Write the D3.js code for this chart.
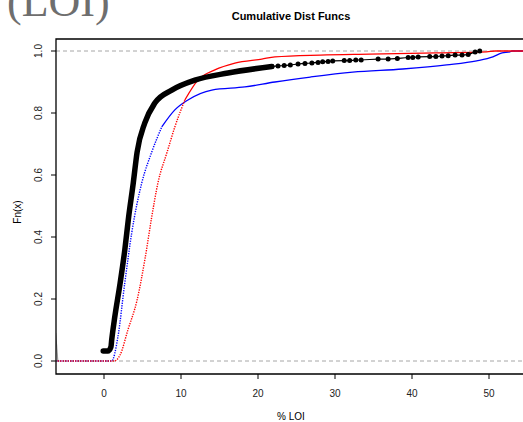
<!DOCTYPE html>
<html><head><meta charset="utf-8">
<script src="https://cdn.jsdelivr.net/npm/d3@7"></script>
<style>body{margin:0;background:#fff}svg{display:block}</style>
</head><body>
<script>
const title = "Cumulative Dist Funcs";
const xLabel = "% LOI";
const yLabel = "Fn(x)";
const xTicks = [0, 10, 20, 30, 40, 50];
const yTicks = [0, 0.2, 0.4, 0.6, 0.8, 1.0];

// black series: dense part (v, F)
const blackDense = [[-0.1,0.032],[0.5,0.032],[0.9,0.045],[1.0,0.068],[1.4,0.142],[2.1,0.252],[2.7,0.358],[3.2,0.465],[3.8,0.574],[4.3,0.674],[5.3,0.768],[6.6,0.832],[8.8,0.874],[11.8,0.906],[16.1,0.929],[21.8,0.950]];
// black series: sparse tail points
const blackTail = [[21.8,0.950],[22.6,0.952],[23.4,0.953],[24.2,0.955],[25.2,0.958],[26.1,0.960],[27.0,0.961],[27.8,0.963],[28.4,0.965],[29.1,0.966],[29.7,0.968],[31.2,0.969],[31.9,0.969],[32.7,0.971],[33.4,0.971],[35.6,0.974],[36.9,0.974],[38.1,0.976],[39.5,0.979],[40.1,0.979],[40.8,0.981],[42.3,0.982],[43.1,0.982],[43.9,0.984],[44.7,0.985],[45.6,0.987],[46.5,0.987],[47.3,0.989],[48.2,0.997],[48.8,1.0]];
const blueSeries = [[-7,0],[1.0,0],[1.8,0.077],[2.7,0.252],[3.6,0.413],[4.9,0.574],[6.2,0.674],[7.5,0.755],[9.2,0.81],[10.9,0.842],[14.0,0.874],[18.3,0.884],[22.2,0.90],[26.8,0.916],[32.3,0.932],[38.8,0.942],[44.5,0.955],[48.4,0.968],[50.5,0.981],[51.7,0.994],[52.7,0.997],[53.0,1.0],[56,1.0]];
const redSeries = [[-7,0],[1.3,0],[2.1,0.02],[3.1,0.10],[4.3,0.197],[5.3,0.326],[6.2,0.465],[7.0,0.574],[8.2,0.674],[9.2,0.755],[10.5,0.842],[12.2,0.906],[14.4,0.939],[17.0,0.961],[20.5,0.974],[22.2,0.981],[28.1,0.987],[34.5,0.990],[43.2,0.994],[49.7,0.997],[50.8,1.0],[56,1.0]];
const greySeries = [[-6.28,0.09],[-6.0,0.0]];
const refLines = [0, 1];

const W = 523, H = 422;
const svg = d3.select("body").append("svg").attr("width", W).attr("height", H);
const x = d3.scaleLinear().domain([0, 50]).range([104, 489]);
const y = d3.scaleLinear().domain([0, 1]).range([361, 51]);
const plot = {left: 56, right: 530, top: 39, bottom: 374};

svg.append("defs").append("clipPath").attr("id","clip").append("rect")
  .attr("x", plot.left).attr("y", plot.top).attr("width", plot.right-plot.left).attr("height", plot.bottom-plot.top);

// big grey fragment text (cut at top edge, as in the reference)
svg.append("text").attr("x", 7).attr("y", 16)
  .attr("font-family", "Liberation Serif, serif").attr("font-size", 44).attr("fill", "#6e6e6e")
  .text("(LOI)");

svg.append("text").attr("x", 291).attr("y", 20).attr("text-anchor","middle")
  .attr("font-family","Liberation Sans, Arial, sans-serif").attr("font-weight","bold").attr("font-size",11)
  .text(title);

const g = svg.append("g").attr("clip-path","url(#clip)");
const line = d3.line().x(d => x(d[0])).y(d => y(d[1])).curve(d3.curveMonotoneX);

g.selectAll("line.ref").data(refLines).join("line").attr("class","ref")
  .attr("x1", plot.left).attr("x2", plot.right).attr("y1", d => y(d)).attr("y2", d => y(d))
  .attr("stroke","#a6a6a6").attr("stroke-width",1).attr("stroke-dasharray","4,3");

g.append("path").datum(greySeries).attr("d", line).attr("fill","none").attr("stroke","#999").attr("stroke-width",1.2);

function drawSeries(data, color, split) {
  const idx = data.findIndex(d => d[1] > split);
  const a = data.slice(0, idx + 1), b = data.slice(idx);
  g.append("path").datum(a).attr("d", line).attr("fill","none").attr("stroke",color).attr("stroke-width",1.4).attr("stroke-dasharray","1.3,1.2");
  g.append("path").datum(b).attr("d", line).attr("fill","none").attr("stroke",color).attr("stroke-width",1.3);
}
drawSeries(blueSeries, "#0000ff", 0.70);
drawSeries(redSeries, "#ff0000", 0.80);

g.append("path").datum(blackDense).attr("d", line).attr("fill","none").attr("stroke","#000")
  .attr("stroke-width",5.5).attr("stroke-linecap","round").attr("stroke-linejoin","round");
g.append("path").datum(blackTail).attr("d", line).attr("fill","none").attr("stroke","#000").attr("stroke-width",1.2);
g.selectAll("circle.t").data(blackTail).join("circle").attr("class","t")
  .attr("cx", d => x(d[0])).attr("cy", d => y(d[1])).attr("r", 2.5).attr("fill","#000");

svg.append("path").attr("d", `M${W},${plot.top}H${plot.left}V${plot.bottom}H${W}`)
  .attr("fill","none").attr("stroke","#000").attr("stroke-width",1.3);

const font = "Liberation Sans, Arial, sans-serif";
const xa = svg.append("g");
xa.selectAll("line").data(xTicks).join("line")
  .attr("x1", d => x(d)).attr("x2", d => x(d)).attr("y1", plot.bottom).attr("y2", plot.bottom + 5).attr("stroke","#000");
xa.selectAll("text").data(xTicks).join("text")
  .attr("x", d => x(d)).attr("y", 397).attr("text-anchor","middle").attr("font-family",font).attr("font-size",10)
  .attr("fill","#222").text(d => d);

const ya = svg.append("g");
ya.selectAll("line").data(yTicks).join("line")
  .attr("x1", plot.left - 5).attr("x2", plot.left).attr("y1", d => y(d)).attr("y2", d => y(d)).attr("stroke","#000");
ya.selectAll("text").data(yTicks).join("text")
  .attr("transform", d => `translate(42,${y(d)}) rotate(-90)`).attr("text-anchor","middle")
  .attr("font-family",font).attr("font-size",10).attr("fill","#222").text(d => d.toFixed(1));

svg.append("text").attr("x", 291).attr("y", 420).attr("text-anchor","middle").attr("font-family",font).attr("font-size",10).text(xLabel);
svg.append("text").attr("transform","translate(21,212) rotate(-90)").attr("text-anchor","middle").attr("font-family",font).attr("font-size",10).text(yLabel);
</script>
</body></html>
